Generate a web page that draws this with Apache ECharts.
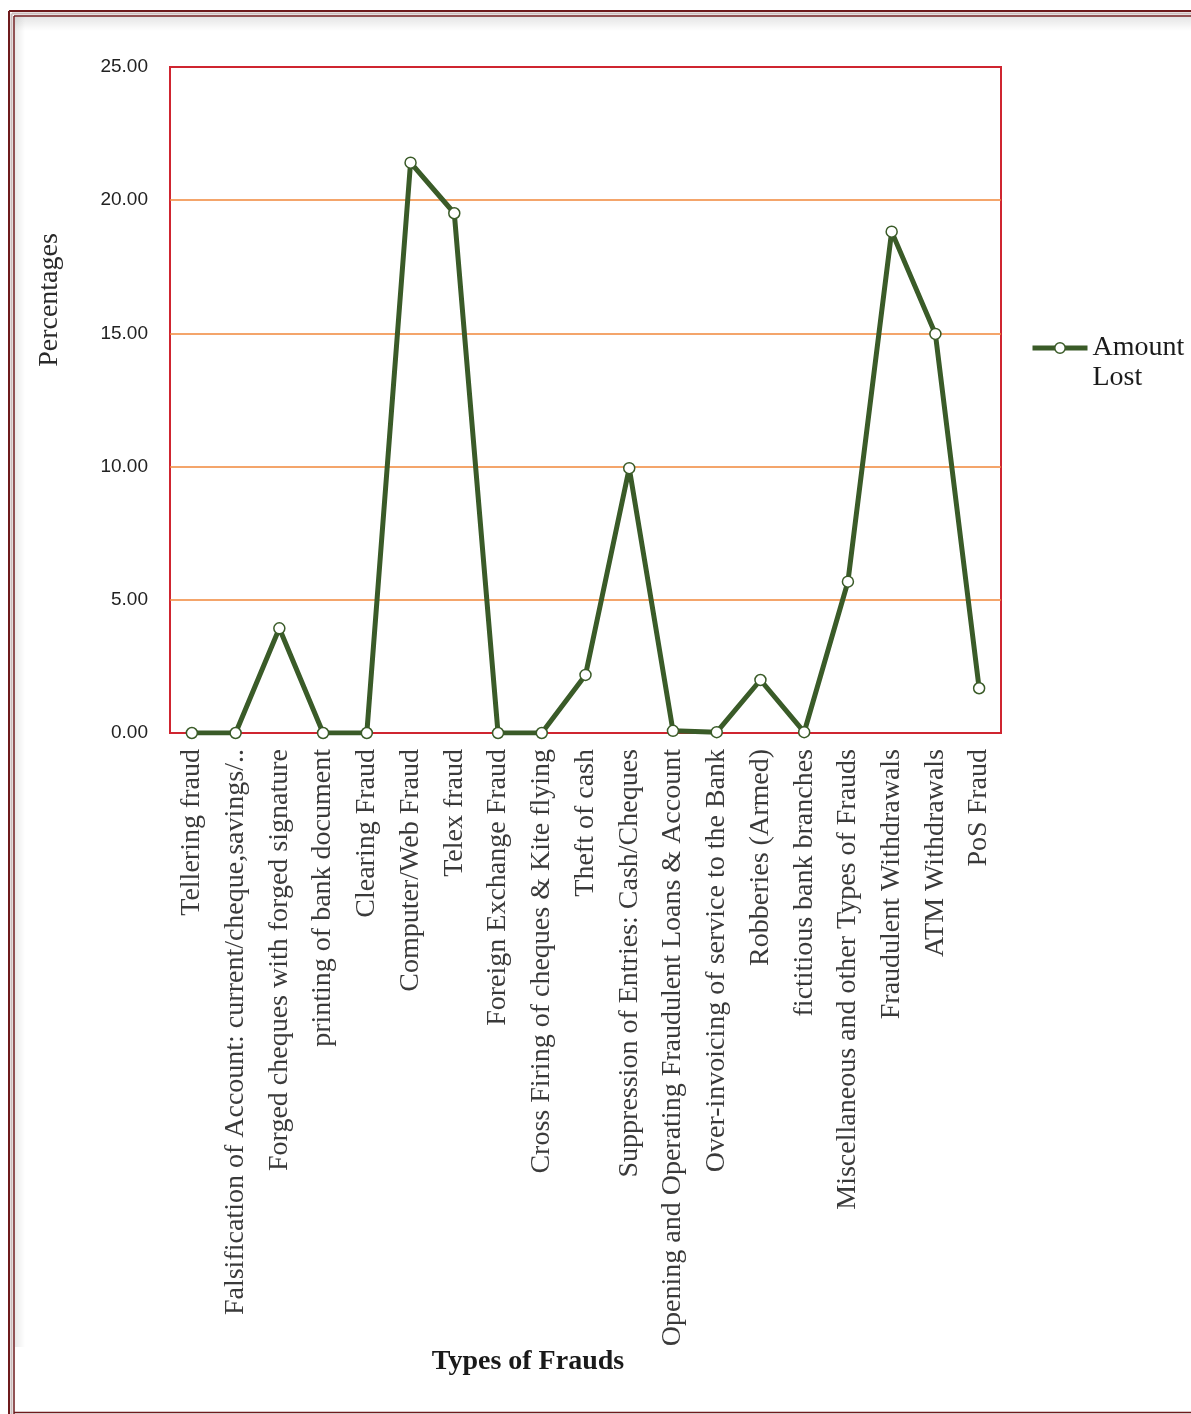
<!DOCTYPE html>
<html>
<head>
<meta charset="utf-8">
<title>Types of Frauds – Amount Lost</title>
<script src="https://cdn.jsdelivr.net/npm/echarts@6/dist/echarts.min.js"></script>
<style>
  html, body { margin: 0; padding: 0; background: #ffffff; }
  #chart { width: 1191px; height: 1414px; }
</style>
</head>
<body>
<div id="chart"></div>
<script>
// Fraud categories (x axis)
const categories = [
  'Tellering fraud',
  'Falsification of Account: current/cheque,savings/..',
  'Forged cheques with forged signature',
  'printing of bank document',
  'Clearing Fraud',
  'Computer/Web Fraud',
  'Telex fraud',
  'Foreign Exchange Fraud',
  'Cross Firing of cheques & Kite flying',
  'Theft of cash',
  'Suppression of Entries: Cash/Cheques',
  'Opening and Operating Fraudulent Loans & Account',
  'Over-invoicing of service to the Bank',
  'Robberies (Armed)',
  'fictitious bank branches',
  'Miscellaneous and other Types of Frauds',
  'Fraudulent Withdrawals',
  'ATM Withdrawals',
  'PoS Fraud'
];

// Share of amount lost per category (percent)
const amountLost = [
  0.00, 0.00, 3.93, 0.00, 0.00, 21.41, 19.51, 0.00, 0.00, 2.18,
  9.94, 0.08, 0.03, 1.99, 0.03, 5.68, 18.82, 14.98, 1.68
];

// Value axis settings
const yMin = 0;
const yMax = 25;
const yStep = 5;

const seriesName = 'Amount Lost';
const yAxisTitle = 'Percentages';
const xAxisTitle = 'Types of Frauds';

const chart = echarts.init(document.getElementById('chart'), null, { renderer: 'canvas' });

const darkRed = '#6e1a1c';
const lineGreen = '#3a5b28';

chart.setOption({
  animation: false,
  backgroundColor: '#ffffff',
  grid: {
    left: 170, top: 67, width: 831, height: 666,
    show: true,
    borderColor: '#cf2530',
    borderWidth: 2,
    backgroundColor: 'transparent'
  },
  legend: {
    left: 1030,
    top: 303,
    padding: 0,
    orient: 'vertical',
    itemWidth: 55,
    itemHeight: 13,
    data: [seriesName],
    // leading blank line keeps the marker level with the first word
    formatter: () => '\nAmount\nLost',
    lineStyle: { color: lineGreen, width: 5 },
    itemStyle: { color: '#ffffff', borderColor: lineGreen, borderWidth: 1.5 },
    textStyle: {
      fontFamily: 'Liberation Serif',
      fontSize: 28,
      color: '#1a1a1a',
      lineHeight: 30
    }
  },
  xAxis: {
    type: 'category',
    data: categories,
    boundaryGap: true,
    axisLine: { show: true, lineStyle: { color: '#cf2530', width: 2 } },
    axisTick: { show: false },
    axisLabel: {
      rotate: 90,
      interval: 0,
      margin: 16,
      fontFamily: 'Liberation Serif',
      fontSize: 28,
      color: '#3a3a3a'
    },
    splitLine: { show: false }
  },
  yAxis: {
    type: 'value',
    min: yMin,
    max: yMax,
    interval: yStep,
    axisLine: { show: false },
    axisTick: { show: false },
    axisLabel: {
      margin: 22,
      fontFamily: 'Liberation Sans',
      fontSize: 19,
      color: '#222222',
      formatter: v => v.toFixed(2)
    },
    splitLine: {
      show: true,
      lineStyle: {
        color: ['transparent', '#f0873a', '#f0873a', '#f0873a', '#f0873a', 'transparent'],
        width: 1.5
      }
    }
  },
  graphic: [
    // outer double frame
    { type: 'line', shape: { x1: 9, y1: 11, x2: 1191, y2: 11 }, style: { stroke: darkRed, lineWidth: 2 } },
    { type: 'line', shape: { x1: 12, y1: 13.5, x2: 1191, y2: 13.5 }, style: { stroke: '#cbbdbd', lineWidth: 2 } },
    { type: 'line', shape: { x1: 14, y1: 16, x2: 1191, y2: 16 }, style: { stroke: darkRed, lineWidth: 1.5 } },
    { type: 'line', shape: { x1: 9, y1: 11, x2: 9, y2: 1414 }, style: { stroke: darkRed, lineWidth: 2 } },
    { type: 'line', shape: { x1: 11.5, y1: 13.5, x2: 11.5, y2: 1414 }, style: { stroke: '#cbbdbd', lineWidth: 2 } },
    { type: 'line', shape: { x1: 14, y1: 16, x2: 14, y2: 1414 }, style: { stroke: darkRed, lineWidth: 1.5 } },
    { type: 'line', shape: { x1: 14, y1: 1412.5, x2: 1191, y2: 1412.5 }, style: { stroke: darkRed, lineWidth: 1.5 } },
    // soft inner shading along top and left edges
    {
      type: 'rect', shape: { x: 15, y: 17, width: 1176, height: 14 },
      style: { fill: new echarts.graphic.LinearGradient(0, 0, 0, 1, [
        { offset: 0, color: 'rgba(0,0,0,0.10)' }, { offset: 1, color: 'rgba(0,0,0,0)' }]) },
      silent: true
    },
    {
      type: 'rect', shape: { x: 15, y: 17, width: 10, height: 1330 },
      style: { fill: new echarts.graphic.LinearGradient(0, 0, 1, 0, [
        { offset: 0, color: 'rgba(0,0,0,0.08)' }, { offset: 1, color: 'rgba(0,0,0,0)' }]) },
      silent: true
    },
    // axis titles
    {
      type: 'text', x: 50, y: 300, rotation: Math.PI / 2,
      style: {
        text: yAxisTitle, fontFamily: 'Liberation Serif', fontSize: 28,
        fill: '#2a2a2a', align: 'center', verticalAlign: 'middle'
      }
    },
    {
      type: 'text', x: 528, y: 1362,
      style: {
        text: xAxisTitle, fontFamily: 'Liberation Serif', fontSize: 28, fontWeight: 'bold',
        fill: '#1a1a1a', align: 'center', verticalAlign: 'middle'
      }
    }
  ],
  series: [{
    name: seriesName,
    type: 'line',
    data: amountLost,
    symbol: 'circle',
    symbolSize: 11,
    showSymbol: true,
    lineStyle: { color: lineGreen, width: 5 },
    itemStyle: { color: '#ffffff', borderColor: lineGreen, borderWidth: 1.5 },
    z: 5
  }]
});
</script>
</body>
</html>
